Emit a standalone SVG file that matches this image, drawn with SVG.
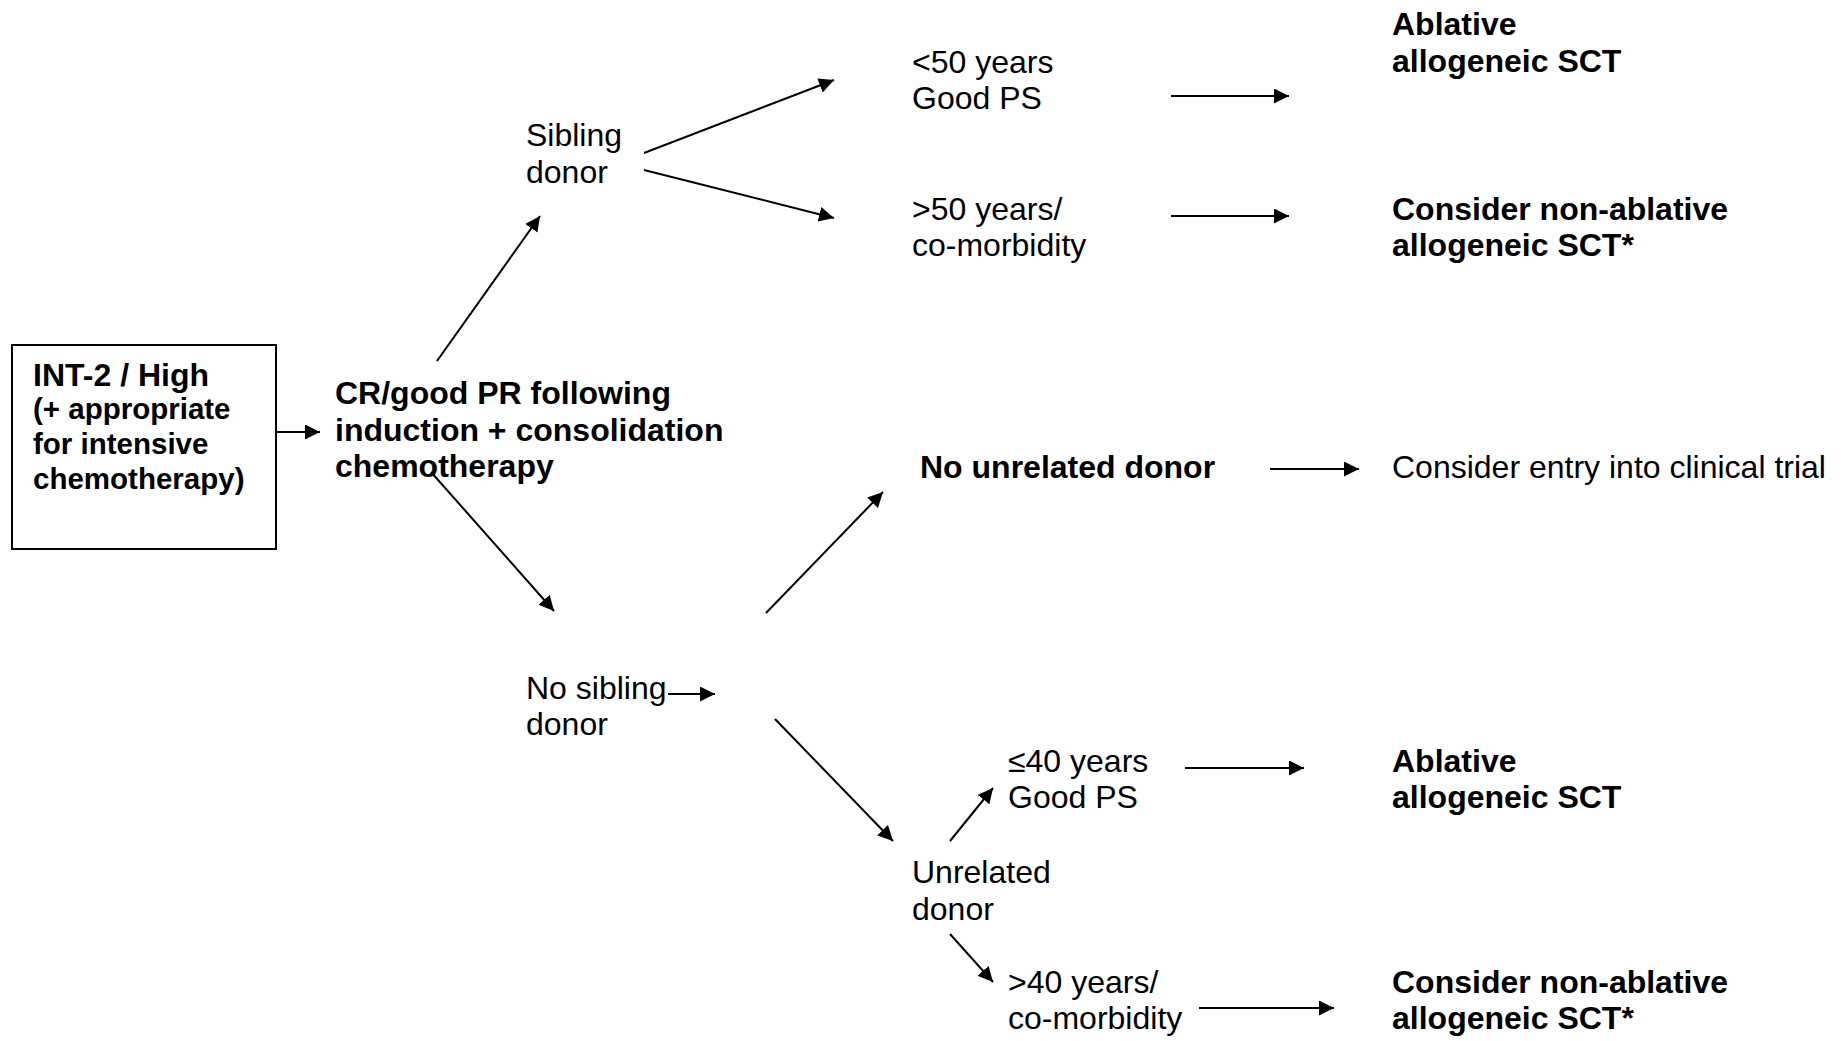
<svg xmlns="http://www.w3.org/2000/svg" width="1842" height="1041" viewBox="0 0 1842 1041">
<style>
text{font-family:"Liberation Sans",Arial,sans-serif;font-size:32px;fill:#000}
.b{font-weight:bold}
.s{font-size:29.5px}
.c line{stroke:#000;stroke-width:2;marker-end:url(#ah)}
</style>
<defs>
<marker id="ah" markerUnits="userSpaceOnUse" markerWidth="16" markerHeight="16" refX="15" refY="7.5" orient="auto">
<path d="M0,0 L15,7.5 L0,15 z" fill="#000"/>
</marker>
</defs>
<rect width="1842" height="1041" fill="#fff"/>
<g id="start">
<rect x="12" y="345" width="264" height="204" fill="none" stroke="#000" stroke-width="2"/>
<text class="b" x="33" y="386">INT-2 / High</text>
<text class="b s" x="33" y="419">(+ appropriate</text>
<text class="b s" x="33" y="454">for intensive</text>
<text class="b s" x="33" y="489">chemotherapy)</text>
</g>
<g id="cr">
<text class="b" x="335" y="404">CR/good PR following</text>
<text class="b" x="335" y="441">induction + consolidation</text>
<text class="b" x="335" y="477">chemotherapy</text>
</g>
<g id="sibling"><text x="526" y="146">Sibling</text><text x="526" y="183">donor</text></g>
<g id="lt50"><text x="912" y="73">&lt;50 years</text><text x="912" y="109">Good PS</text></g>
<g id="gt50"><text x="912" y="220">&gt;50 years/</text><text x="912" y="256">co-morbidity</text></g>
<g id="abl1"><text class="b" x="1392" y="35">Ablative</text><text class="b" x="1392" y="72">allogeneic SCT</text></g>
<g id="nonabl1"><text class="b" x="1392" y="220">Consider non-ablative</text><text class="b" x="1392" y="256">allogeneic SCT*</text></g>
<g id="nounrel"><text class="b" x="920" y="478">No unrelated donor</text></g>
<g id="trial"><text x="1392" y="478">Consider entry into clinical trial</text></g>
<g id="nosib"><text x="526" y="699">No sibling</text><text x="526" y="735">donor</text></g>
<g id="unrel"><text x="912" y="883">Unrelated</text><text x="912" y="920">donor</text></g>
<g id="le40"><text x="1008" y="772">≤40 years</text><text x="1008" y="808">Good PS</text></g>
<g id="abl2"><text class="b" x="1392" y="772">Ablative</text><text class="b" x="1392" y="808">allogeneic SCT</text></g>
<g id="gt40"><text x="1008" y="993">&gt;40 years/</text><text x="1008" y="1029">co-morbidity</text></g>
<g id="nonabl2"><text class="b" x="1392" y="993">Consider non-ablative</text><text class="b" x="1392" y="1029">allogeneic SCT*</text></g>
<g id="connectors" class="c">
<line x1="277" y1="432" x2="320" y2="432"/>
<line x1="437" y1="361" x2="540" y2="216"/>
<line x1="431" y1="472" x2="554" y2="611"/>
<line x1="644" y1="153" x2="834" y2="80"/>
<line x1="644" y1="170" x2="834" y2="218"/>
<line x1="1171" y1="96" x2="1289" y2="96"/>
<line x1="1171" y1="216" x2="1289" y2="216"/>
<line x1="766" y1="613" x2="883" y2="492"/>
<line x1="1270" y1="469" x2="1359" y2="469"/>
<line x1="668" y1="694" x2="715" y2="694"/>
<line x1="775" y1="719" x2="893" y2="841"/>
<line x1="950" y1="841" x2="993" y2="788"/>
<line x1="950" y1="934" x2="993" y2="982"/>
<line x1="1185" y1="768" x2="1304" y2="768"/>
<line x1="1199" y1="1008" x2="1334" y2="1008"/>
</g>
</svg>
